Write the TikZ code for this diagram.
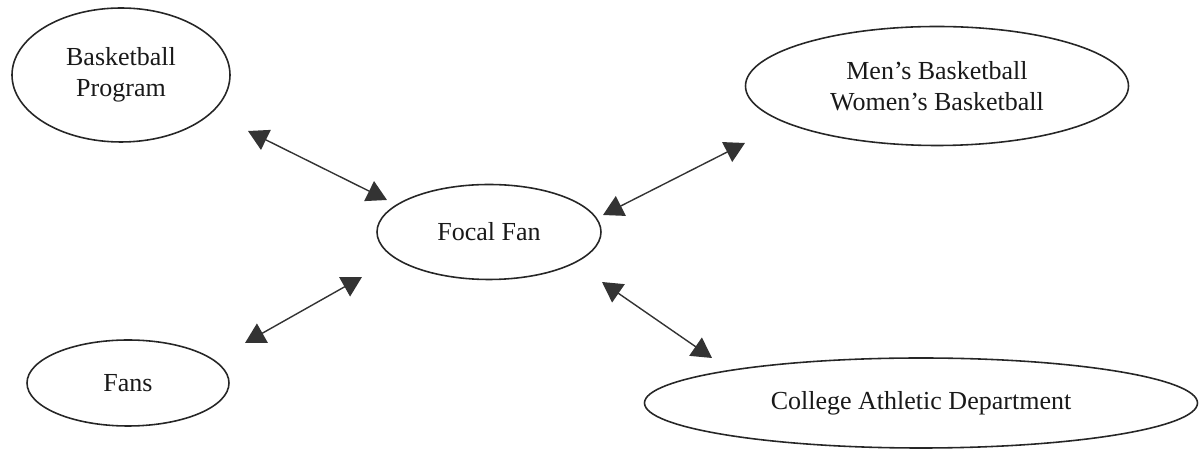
\documentclass[tikz,border=0pt]{standalone}
\usepackage{fontspec}
\setmainfont{Liberation Serif}
\usetikzlibrary{shapes.geometric, arrows.meta}

\begin{document}
\begin{tikzpicture}[
    oval/.style={
        ellipse, draw=black!85, line width=0.9pt,
        inner sep=0pt, align=center, text=black!90,
        font=\fontsize{14.8}{17.6}\selectfont
    },
    arrowstyle/.style={
        {Triangle[length=0.4cm,width=0.44cm]}-{Triangle[length=0.4cm,width=0.44cm]},
        line width=0.8pt, black!80
    }
]
\useasboundingbox (0,0) rectangle (23.98,8.98);

% Central ellipse
\node[oval, minimum width=4.48cm, minimum height=1.9cm] (ff) at (9.78,4.34) {Focal Fan};

% Outer ellipses
\node[oval, minimum width=4.36cm, minimum height=2.68cm] (bp) at (2.42,7.48) {Basketball\\Program};
\node[oval, minimum width=7.66cm, minimum height=2.38cm] (mw) at (18.74,7.26) {Men’s Basketball\\Women’s Basketball};
\node[oval, minimum width=4.04cm, minimum height=1.72cm] (fans) at (2.56,1.32) {Fans};
\node[oval, minimum width=11.06cm, minimum height=1.8cm] (cad) at (18.42,0.92) {College Athletic Department};

% Free ends of the arrows (they stop short of the ellipses)
\coordinate (bp-out) at (4.96,6.36);
\coordinate (ff-nw) at (7.74,4.98);
\coordinate (ff-ne) at (12.06,4.68);
\coordinate (mw-out) at (14.90,6.12);
\coordinate (fans-out) at (4.90,2.12);
\coordinate (ff-sw) at (7.24,3.44);
\coordinate (ff-se) at (12.04,3.34);
\coordinate (cad-out) at (14.24,1.82);

% Double arrows
\draw[arrowstyle] (bp-out) -- (ff-nw);
\draw[arrowstyle] (ff-ne) -- (mw-out);
\draw[arrowstyle] (fans-out) -- (ff-sw);
\draw[arrowstyle] (ff-se) -- (cad-out);

\end{tikzpicture}
\end{document}
